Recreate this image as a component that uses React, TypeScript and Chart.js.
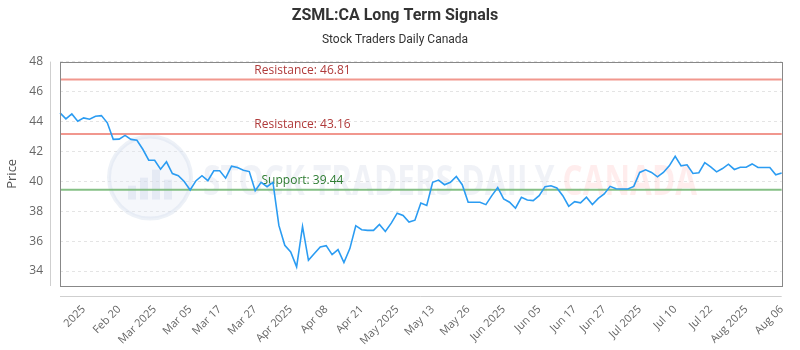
import React, { useEffect, useRef } from "react";
import { Chart, registerables } from "chart.js";

Chart.register(...registerables);

// Closing prices, one per trading session
const prices: number[] = [
  44.57, 44.17, 44.5, 44.02, 44.24, 44.15, 44.35, 44.39, 43.91, 42.8,
  42.82, 43.07, 42.8, 42.74, 42.14, 41.41, 41.41, 40.81, 41.3, 40.52,
  40.37, 39.99, 39.42, 40.04, 40.37, 40.04, 40.7, 40.7, 40.21, 41.01,
  40.92, 40.74, 40.65, 39.37, 39.93, 39.64, 39.93, 37.05, 35.72, 35.28,
  34.28, 36.98, 34.72, 35.17, 35.61, 35.7, 35.1, 35.43, 34.57, 35.5,
  37.03, 36.76, 36.72, 36.72, 37.12, 36.65, 37.2, 37.87, 37.71, 37.27,
  37.4, 38.55, 38.38, 39.93, 40.08, 39.77, 39.93, 40.32, 39.77, 38.6,
  38.6, 38.6, 38.44, 39.04, 39.59, 38.82, 38.6, 38.2, 38.93, 38.75,
  38.71, 39.04, 39.64, 39.7, 39.55, 39.04, 38.33, 38.64, 38.56, 38.93,
  38.44, 38.86, 39.15, 39.66, 39.5, 39.48, 39.48, 39.66, 40.59, 40.77,
  40.59, 40.3, 40.59, 41.03, 41.67, 41.03, 41.1, 40.52, 40.57, 41.25,
  40.96, 40.63, 40.85, 41.14, 40.79, 40.94, 40.94, 41.16, 40.92, 40.92,
  40.92, 40.43, 40.55,
];

// Session index of each labelled tick, and its text
const tickIndices: number[] = [4, 10, 16, 22, 27, 33, 39, 45, 51, 57, 63, 69, 75, 81, 87, 92, 98, 104, 110, 116, 122];
const tickLabels: string[] = [
  "2025", "Feb 20", "Mar 2025", "Mar 05", "Mar 17", "Mar 27", "Apr 2025", "Apr 08", "Apr 21",
  "May 2025", "May 13", "May 26", "Jun 2025", "Jun 05", "Jun 17", "Jun 27", "Jul 2025",
  "Jul 10", "Jul 22", "Aug 2025", "Aug 06",
];

const yTicks: number[] = [34, 36, 38, 40, 42, 44, 46, 48];

const levelNames: string[] = ["Resistance", "Resistance", "Support"];
const levelValues: number[] = [46.81, 43.16, 39.44];
const levelKinds: string[] = ["res", "res", "sup"];

const categories: number[] = prices.map((_, i) => i);

const levelStyle: Record<string, { line: string; text: string }> = {
  res: { line: "rgba(240,140,130,0.9)", text: "#b03a3a" },
  sup: { line: "rgba(120,185,120,0.9)", text: "#2f7d32" },
};

const watermarkPlugin = {
  id: "watermark",
  beforeDatasetsDraw(chart: any) {
    const { ctx, chartArea: a } = chart;
    ctx.save();
    // round logo
    const cx = a.left + 90;
    const cy = a.top + 116;
    const r = 41;
    ctx.beginPath();
    ctx.arc(cx, cy, r, 0, Math.PI * 2);
    ctx.fillStyle = "rgba(225,232,244,0.35)";
    ctx.fill();
    ctx.lineWidth = 4;
    ctx.strokeStyle = "rgba(210,220,236,0.4)";
    ctx.stroke();
    ctx.fillStyle = "rgba(200,212,232,0.35)";
    const bars = [14, 22, 30, 20];
    bars.forEach((h, i) => {
      ctx.fillRect(cx - 22 + i * 12, cy + 22 - h, 8, h);
    });
    // text, squeezed horizontally to the logo's text width
    ctx.font = "bold 42px 'Open Sans'";
    ctx.textBaseline = "alphabetic";
    ctx.textAlign = "left";
    const base = a.top + 133;
    const part1 = "STOCK TRADERS DAILY ";
    const part2 = "CANADA";
    const w1 = ctx.measureText(part1).width;
    const w2 = ctx.measureText(part2).width;
    const target = 494;
    const sx = target / (w1 + w2);
    ctx.translate(a.left + 143, base);
    ctx.scale(sx, 1);
    ctx.fillStyle = "rgba(195,205,222,0.25)";
    ctx.fillText(part1, 0, 0);
    ctx.fillStyle = "rgba(255,175,175,0.22)";
    ctx.fillText(part2, w1, 0);
    ctx.restore();
  },
};

const levelsPlugin = {
  id: "levels",
  beforeDatasetsDraw(chart: any) {
    const { ctx, chartArea: a, scales } = chart;
    ctx.save();
    levelValues.forEach((v, i) => {
      const y = scales.y.getPixelForValue(v);
      const st = levelStyle[levelKinds[i]];
      ctx.beginPath();
      ctx.moveTo(a.left, y);
      ctx.lineTo(a.right, y);
      ctx.lineWidth = 2;
      ctx.strokeStyle = st.line;
      ctx.stroke();
      ctx.font = "12px 'Open Sans'";
      ctx.fillStyle = st.text;
      ctx.textAlign = "center";
      ctx.textBaseline = "bottom";
      const x = a.left + (a.right - a.left) * 0.336;
      ctx.fillText(`${levelNames[i]}: ${v.toFixed(2)}`, x, y - 3);
    });
    ctx.restore();
  },
};

const framePlugin = {
  id: "frame",
  afterDraw(chart: any) {
    const { ctx, chartArea: a } = chart;
    ctx.save();
    ctx.lineWidth = 1;
    ctx.strokeStyle = "#888";
    ctx.strokeRect(Math.round(a.left) + 0.5, Math.round(a.top) + 0.5, Math.round(a.right - a.left), Math.round(a.bottom - a.top));
    ctx.strokeStyle = "#cfcfcf";
    ctx.beginPath();
    ctx.moveTo(Math.round(a.left) - 9.5, a.top);
    ctx.lineTo(Math.round(a.left) - 9.5, a.bottom);
    ctx.moveTo(a.left, Math.round(a.bottom) + 10.5);
    ctx.lineTo(a.right, Math.round(a.bottom) + 10.5);
    ctx.stroke();
    ctx.restore();
  },
};

export default function App() {
  const ref = useRef<HTMLCanvasElement>(null);
  useEffect(() => {
    document.body.style.margin = "0";
    const chart = new Chart(ref.current as HTMLCanvasElement, {
      type: "line",
      data: {
        labels: categories,
        datasets: [
          {
            data: prices,
            borderColor: "#2b9cf2",
            borderWidth: 1.6,
            pointRadius: 0,
            tension: 0,
            fill: false,
          },
        ],
      },
      options: {
        animation: false,
        responsive: false,
        layout: { padding: { left: 0, right: 10, top: 0, bottom: 0 } },
        plugins: {
          legend: { display: false },
          tooltip: { enabled: false },
          title: {
            display: true,
            text: "ZSML:CA Long Term Signals",
            color: "#333",
            font: { family: "Roboto", size: 16, weight: "bold" },
            padding: { top: 6, bottom: 8 },
          },
          subtitle: {
            display: true,
            text: "Stock Traders Daily Canada",
            color: "#333",
            font: { family: "Roboto", size: 12 },
            padding: { top: 0, bottom: 14 },
          },
        },
        scales: {
          x: {
            type: "category",
            grid: { display: false },
            border: { display: false },
            ticks: {
              autoSkip: false,
              maxRotation: 45,
              minRotation: 45,
              color: "#666",
              padding: 9,
              font: { family: "Open Sans", size: 11 },
              callback: (_v: any, index: number) => tickLabels[index],
            },
            afterBuildTicks: (scale: any) => {
              scale.ticks = tickIndices.map((v) => ({ value: v }));
            },
            afterFit: (scale: any) => {
              scale.height = 64;
            },
          },
          y: {
            min: 33,
            max: 48,
            grid: { color: "#e4e4e4", drawTicks: false },
            border: { display: false, dash: [3, 3] },
            title: {
              display: true,
              text: "Price",
              color: "#555",
              font: { family: "Open Sans", size: 13 },
              padding: { top: 4, bottom: 0 },
            },
            ticks: {
              color: "#666",
              padding: 17,
              font: { family: "Open Sans", size: 12 },
            },
            afterBuildTicks: (scale: any) => {
              scale.ticks = yTicks.map((v) => ({ value: v }));
            },
            afterFit: (scale: any) => {
              scale.width = 60;
            },
          },
        },
      } as any,
      plugins: [watermarkPlugin, levelsPlugin, framePlugin],
    });
    return () => chart.destroy();
  }, []);
  return (
    <div style={{ width: 800, height: 350 }}>
      <canvas ref={ref} width={800} height={350} />
    </div>
  );
}
